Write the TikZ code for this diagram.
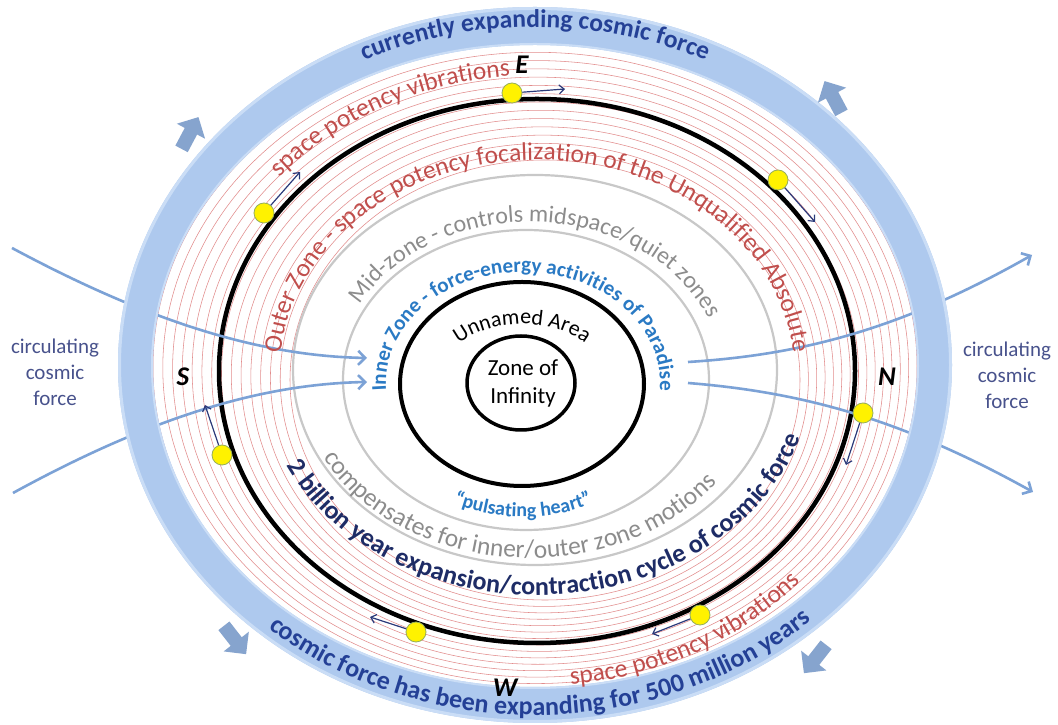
\documentclass[tikz,border=0pt]{standalone}
\usepackage{fontspec}
\setmainfont{Carlito}
\usetikzlibrary{decorations.text,arrows.meta}
\definecolor{redline}{RGB}{226,140,140}
\definecolor{grayline}{RGB}{200,200,200}
\definecolor{bandfill}{RGB}{174,201,238}
\definecolor{bandedge}{RGB}{202,221,246}
\definecolor{bandtxt}{RGB}{36,64,150}
\definecolor{navytxt}{RGB}{30,44,102}
\definecolor{redtxt}{RGB}{192,78,76}
\definecolor{graytxt}{RGB}{140,140,140}
\definecolor{bluetxt}{RGB}{42,122,196}
\definecolor{circtxt}{RGB}{72,82,140}
\definecolor{smallarr}{RGB}{44,58,122}
\definecolor{curveblue}{RGB}{124,162,214}
\definecolor{blockblue}{RGB}{134,164,206}
\definecolor{dotedge}{RGB}{150,175,90}
\newcommand\ringtext[7]{%
  \path[decorate,decoration={text along path,text align=center,text={#1}}]
   ([shift={(#2,#3)}]#6:#4 and #5) arc[start angle=#6,end angle=#7,x radius=#4,y radius=#5];}
\begin{document}
\begin{tikzpicture}[x=1pt,y=1pt,
  redring/.style={draw=redline,line width=0.55pt},
  grayring/.style={draw=grayline,line width=2.2pt},
  blackring/.style={draw=black,line width=4.5pt},
  flow/.style={draw=curveblue,line width=2.6pt,-{Straight Barb[length=7pt,width=14pt]}},
  motion/.style={draw=smallarr,line width=1.2pt,-{Straight Barb[length=5pt,width=9pt]}},
  dot/.style={circle,fill=yellow,draw=dotedge,line width=0.8pt,minimum size=20pt,inner sep=0pt},
  compass/.style={font=\fontsize{27}{30}\selectfont\bfseries\itshape},
  circlabel/.style={align=center,text=circtxt,font=\fontsize{21}{26}\selectfont},
  blockarrow/.style={fill=blockblue}]
\useasboundingbox (0,0) rectangle (1058,725);
\fill[white] (0,0) rectangle (1058,725);
% red rings
\foreach \i in {0,...,14}{
  \pgfmathsetmacro\tt{\i/14}
  \pgfmathsetmacro\cx{545-10*\tt}
  \pgfmathsetmacro\cy{345+13*\tt}
  \pgfmathsetmacro\rx{255+127*\tt}
  \pgfmathsetmacro\ry{220+103*\tt}
  \draw[redring] (\cx,\cy) ellipse[x radius=\rx,y radius=\ry];
}
% gray rings
\draw[grayring] (535,355) ellipse[x radius=242,y radius=195];
\draw[grayring] (526,345) ellipse[x radius=183,y radius=150];
% black rings
\draw[blackring] (537,354) ellipse[x radius=318,y radius=272];
\draw[draw=black,line width=4pt] (522,341) ellipse[x radius=122,y radius=102];
\draw[draw=black,line width=3.5pt] (521,342) ellipse[x radius=54,y radius=47];
% circulating force curves
\coordinate (fl1s) at (12,477); \coordinate (fl1e) at (367,367);
\coordinate (fl2s) at (13,232); \coordinate (fl2e) at (367,343);
\coordinate (fr1s) at (688,363); \coordinate (fr1e) at (1032,470);
\coordinate (fr2s) at (688,342); \coordinate (fr2e) at (1033,233);
\draw[flow] (fl1s) .. controls (150,403) and (260,369) .. (fl1e);
\draw[flow] (fl2s) .. controls (150,307) and (260,341) .. (fl2e);
\draw[flow] (fr1s) .. controls (800,370) and (900,395) .. (fr1e);
\draw[flow] (fr2s) .. controls (800,333) and (900,307) .. (fr2e);
% band
\fill[bandfill,even odd rule] (535,360) ellipse[x radius=417,y radius=358] (535,359) ellipse[x radius=382,y radius=321];
\draw[bandedge,line width=3pt] (535,360) ellipse[x radius=415.5,y radius=356.5];
\draw[bandedge,line width=2pt] (535,359) ellipse[x radius=383,y radius=322];
% block arrows
\foreach \px/\py/\a in {190/592/62, 833/628/118, 235/85/308, 815/66/232}
  \fill[blockarrow,shift={(\px,\py)},rotate=\a] (-18,-7) -- (2,-7) -- (2,-16) -- (18,0) -- (2,16) -- (2,7) -- (-18,7) -- cycle;
% texts along rings
\ringtext{|\fontsize{25.5}{28}\selectfont\bfseries\color{bandtxt}|currently expanding cosmic force}{535}{360}{393}{338}{130}{50}
\ringtext{|\fontsize{25.5}{28}\selectfont\color{redtxt}|space potency vibrations}{537}{354}{340}{296}{164}{72}
\ringtext{|\fontsize{25.5}{28}\selectfont\color{redtxt}|Outer Zone - space potency focalization of the Unqualified Absolute}{537}{354}{257}{211}{182}{-2}
\ringtext{|\fontsize{24}{28}\selectfont\color{graytxt}|Mid-zone - controls midspace/quiet zones}{530}{347}{193}{156}{177}{-3}
\ringtext{|\fontsize{21}{24}\selectfont\bfseries\color{bluetxt}|Inner Zone - force-energy activities of Paradise}{523}{342}{137}{111}{205}{-25}
\ringtext{|\fontsize{22}{26}\selectfont|Unnamed Area}{522}{341}{86}{60}{170}{10}
\ringtext{|\fontsize{20}{23}\selectfont\bfseries\color{bluetxt}|“pulsating heart”}{523}{342}{160}{134}{200}{340}
\ringtext{|\fontsize{25.5}{28}\selectfont\color{graytxt}|compensates for inner/outer zone motions}{530}{348}{230}{181}{185}{345}
\ringtext{|\fontsize{26}{28}\selectfont\bfseries\color{navytxt}|2 billion year expansion/contraction cycle of cosmic force}{537}{354}{276}{224}{184}{364}
\ringtext{|\fontsize{25.5}{28}\selectfont\color{redtxt}|space potency vibrations}{537}{354}{354}{315}{248}{348}
\ringtext{|\fontsize{26}{28}\selectfont\bfseries\color{bandtxt}|cosmic force has been expanding for 500 million years}{535}{360}{405}{350}{200}{342}
% plain labels
\node[align=center,font=\fontsize{23}{28}\selectfont] (zoi) at (523,342) {Zone of\\Infinity};
\node[compass] (E) at (522,660) {E};
\node[compass] (W) at (505,37) {W};
\node[compass] (S) at (183,348) {S};
\node[compass] (N) at (887,348) {N};
\node[circlabel] (cl) at (55,353) {circulating\\cosmic\\force};
\node[circlabel] (cr) at (1007,350) {circulating\\cosmic\\force};
% moving points
\node[dot] (d1) at (512,632) {};
\node[dot] (d2) at (264,512) {};
\node[dot] (d3) at (778,545) {};
\node[dot] (d4) at (863,312) {};
\node[dot] (d5) at (222,270) {};
\node[dot] (d6) at (700,110) {};
\node[dot] (d7) at (416,93) {};
\coordinate (m1) at (565,636);
\coordinate (m2) at (300,553);
\coordinate (m3) at (815,503);
\coordinate (m4) at (846,260);
\coordinate (m5) at (205,320);
\coordinate (m6) at (652,91);
\coordinate (m7) at (370,108);
\foreach \k in {1,...,7} \draw[motion] (d\k) -- (m\k);
\end{tikzpicture}
\end{document}
